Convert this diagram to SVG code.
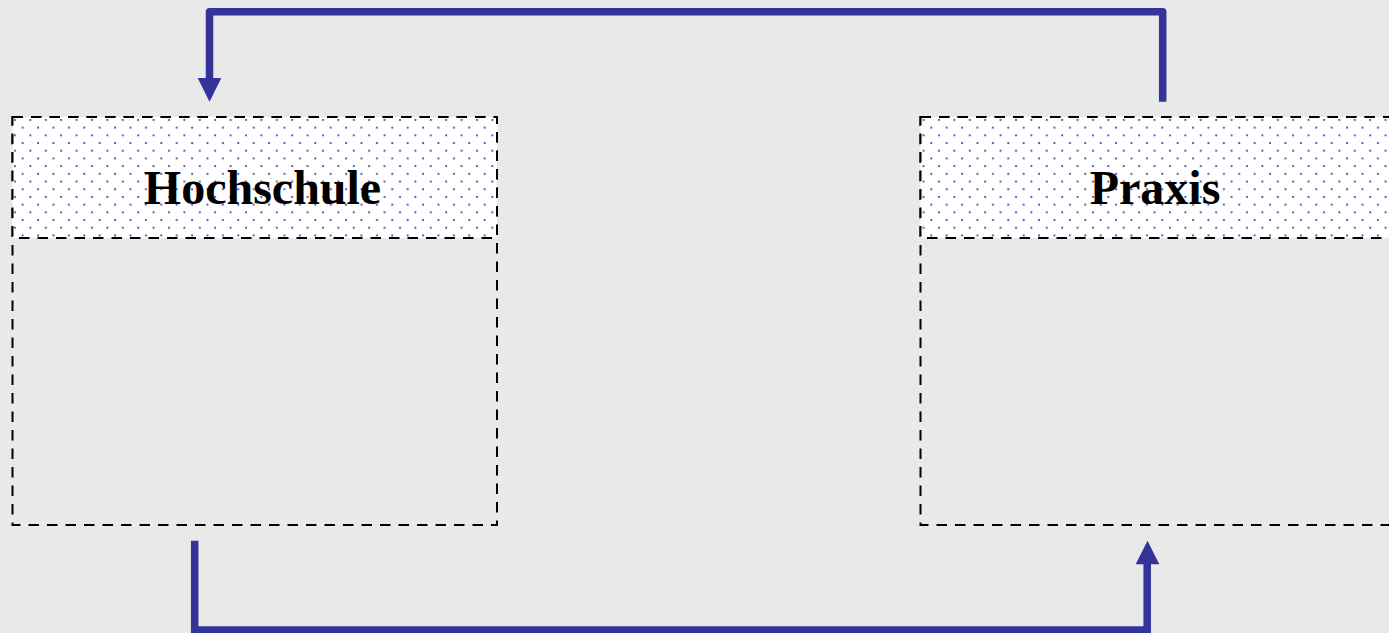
<svg xmlns="http://www.w3.org/2000/svg" width="1389" height="633" viewBox="0 0 1389 633">
<defs>
<pattern id="dots" x="12" y="117" width="15.4" height="15.4" patternUnits="userSpaceOnUse">
<rect width="15.4" height="15.4" fill="#ffffff"/>
<circle cx="3" cy="3" r="1.1" fill="#4444aa"/>
<circle cx="10.7" cy="10.7" r="1.1" fill="#4444aa"/>
</pattern>
<style>
.hdr{fill:url(#dots);stroke:#000;stroke-width:2;stroke-dasharray:10.5 8}
.body{fill:none;stroke:#000;stroke-width:2;stroke-dasharray:10.5 8}
.lbl{font-family:"Liberation Serif",serif;font-weight:bold;font-size:48px;fill:#000;text-anchor:middle}
.conn{fill:none;stroke:#333399;stroke-width:7.5}
.head{fill:#333399}
</style>
</defs>
<rect width="1389" height="633" fill="#e9e9e9"/>
<g id="hochschule">
<rect class="body" x="12.5" y="117" width="484.5" height="408"/>
<rect class="hdr" x="12.5" y="117" width="484.5" height="121"/>
<text class="lbl" x="262.5" y="204">Hochschule</text>
</g>
<g id="praxis">
<rect class="body" x="920.5" y="117" width="484.5" height="408"/>
<rect class="hdr" x="920.5" y="117" width="484.5" height="121"/>
<text class="lbl" x="1155" y="204">Praxis</text>
</g>
<g id="connectors">
<path class="conn" d="M1162.7 101.7 V11.7 H209.5 V80" stroke-linejoin="round"/>
<polygon class="head" points="197.7,78 221.3,78 209.5,101.7"/>
<path class="conn" d="M194.7 540.7 V630 H1147.2 V562"/>
<polygon class="head" points="1135.7,564.3 1159.3,564.3 1147.5,540.7"/>
</g>
</svg>
